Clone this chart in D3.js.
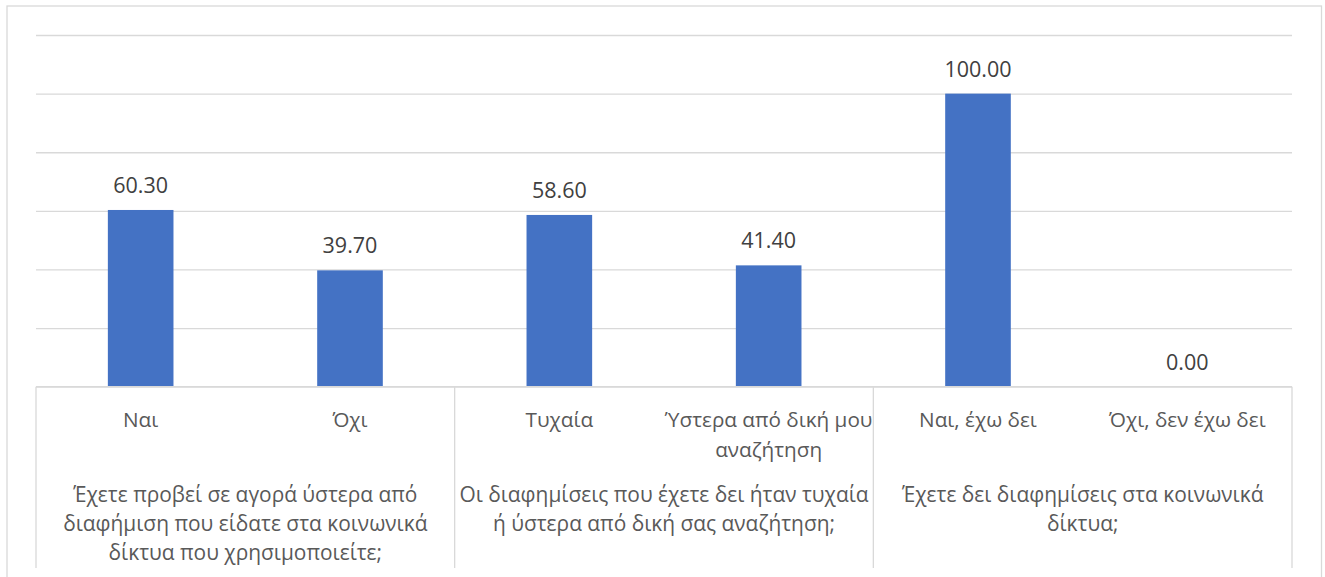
<!DOCTYPE html>
<html>
<head>
<meta charset="utf-8">
<script src="https://cdn.jsdelivr.net/npm/d3@7"></script>
<style>
  html, body { margin: 0; padding: 0; background: #ffffff; }
  svg { display: block; }
</style>
</head>
<body>
<svg id="chart" width="1325" height="577"></svg>
<script>
// ---- data ----
const categories = ["Ναι", "Όχι", "Τυχαία", "Ύστερα από δική μου αναζήτηση", "Ναι, έχω δει", "Όχι, δεν έχω δει"];
const categoryLines = [["Ναι"], ["Όχι"], ["Τυχαία"], ["Ύστερα από δική μου", "αναζήτηση"], ["Ναι, έχω δει"], ["Όχι, δεν έχω δει"]];
const values = [60.30, 39.70, 58.60, 41.40, 100.00, 0.00];
const groups = [
  "Έχετε προβεί σε αγορά ύστερα από διαφήμιση που είδατε στα κοινωνικά δίκτυα που χρησιμοποιείτε;",
  "Οι διαφημίσεις που έχετε δει ήταν τυχαία ή ύστερα από δική σας αναζήτηση;",
  "Έχετε δει διαφημίσεις στα κοινωνικά δίκτυα;"
];
const groupLines = [
  ["Έχετε προβεί σε αγορά ύστερα από", "διαφήμιση που είδατε στα κοινωνικά", "δίκτυα που χρησιμοποιείτε;"],
  ["Οι διαφημίσεις που έχετε δει ήταν τυχαία", "ή ύστερα από δική σας αναζήτηση;"],
  ["Έχετε δει διαφημίσεις στα κοινωνικά", "δίκτυα;"]
];
const groupOf = [0, 0, 1, 1, 2, 2];
const yTicks = [0, 20, 40, 60, 80, 100, 120];

// ---- layout ----
const svg = d3.select("#chart");
const plot = { left: 36, right: 1292, top: 35, bottom: 386.7 };
const axisBottom = 568;
const gridColor = "#d9d9d9";
const labelFont = "'Open Sans', 'Noto Sans', sans-serif";

// chart border
svg.append("rect")
  .attr("x", 7).attr("y", 6)
  .attr("width", 1314.5).attr("height", 600)
  .attr("fill", "#fff").attr("stroke", gridColor).attr("stroke-width", 1.3);

const x = d3.scaleBand().domain(d3.range(categories.length))
  .range([plot.left, plot.right]).paddingInner(0).paddingOuter(0);
const y = d3.scaleLinear().domain([0, 120]).range([plot.bottom, plot.top]);

// gridlines via axis
const gridAxis = d3.axisLeft(y).tickValues(yTicks).tickSize(-(plot.right - plot.left)).tickFormat("");
const gg = svg.append("g").attr("transform", `translate(${plot.left},0)`).call(gridAxis);
gg.select(".domain").remove();
gg.selectAll(".tick line").attr("stroke", gridColor).attr("stroke-width", 1.3);

// bars
const barW = x.bandwidth() / 3.19;
svg.append("g").selectAll("rect").data(values).join("rect")
  .attr("x", (d, i) => x(i) + x.bandwidth() / 2 - barW / 2)
  .attr("y", d => y(d))
  .attr("width", barW)
  .attr("height", d => y(0) - y(d))
  .attr("fill", "#4472c4");

// data labels
svg.append("g").selectAll("text").data(values).join("text")
  .attr("x", (d, i) => x(i) + x.bandwidth() / 2)
  .attr("y", d => y(d) - 17)
  .attr("text-anchor", "middle")
  .attr("font-family", labelFont)
  .attr("font-size", 21.5)
  .attr("fill", "#404040")
  .text(d => d3.format(".2f")(d));

// category axis: baseline + group separators
const ax = svg.append("g");
ax.append("line")
  .attr("x1", plot.left).attr("x2", plot.right)
  .attr("y1", y(0)).attr("y2", y(0))
  .attr("stroke", gridColor).attr("stroke-width", 1.3);
const groupEdges = [0, 2, 4, 6].map(i => i < categories.length ? x(i) : plot.right);
ax.selectAll("line.sep").data(groupEdges).join("line")
  .attr("class", "sep")
  .attr("x1", d => d).attr("x2", d => d)
  .attr("y1", y(0)).attr("y2", axisBottom)
  .attr("stroke", gridColor).attr("stroke-width", 1.3);

// category labels
const catG = ax.append("g").selectAll("text").data(categoryLines).join("text")
  .attr("text-anchor", "middle")
  .attr("font-family", labelFont)
  .attr("font-size", 20.7)
  .attr("fill", "#595959");
catG.each(function(lines, i) {
  d3.select(this).selectAll("tspan").data(lines).join("tspan")
    .attr("x", x(i) + x.bandwidth() / 2)
    .attr("y", (l, k) => 427 + k * 29.5)
    .text(l => l);
});

// group labels
const grpG = ax.append("g").selectAll("text").data(groupLines).join("text")
  .attr("text-anchor", "middle")
  .attr("font-family", labelFont)
  .attr("font-size", 20.9)
  .attr("fill", "#595959");
grpG.each(function(lines, g) {
  const cx = (groupEdges[g] + groupEdges[g + 1]) / 2;
  d3.select(this).selectAll("tspan").data(lines).join("tspan")
    .attr("x", cx)
    .attr("y", (l, k) => 502 + k * 29)
    .text(l => l);
});
</script>
</body>
</html>
